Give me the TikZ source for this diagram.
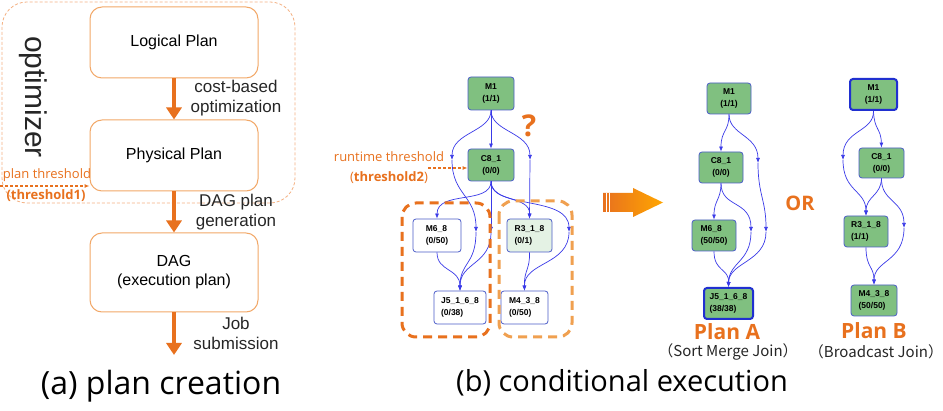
\documentclass[tikz,border=0pt]{standalone}
\usepackage{fontspec}
\setmainfont{Liberation Sans}
\newfontfamily\nsf{Open Sans}
\newfontfamily\cjk{Noto Sans CJK SC}
\usetikzlibrary{arrows.meta}
\definecolor{orA}{HTML}{E8711E}
\definecolor{orL}{HTML}{F2A868}
\definecolor{orD}{HTML}{F4B183}
\definecolor{orR}{HTML}{F0A050}
\definecolor{gfill}{HTML}{80C080}
\definecolor{lgfill}{HTML}{E4F2E4}
\definecolor{nborder}{HTML}{4C5DC9}
\definecolor{edgec}{HTML}{3A3AE8}
\definecolor{thickb}{HTML}{2030D0}
\tikzset{
  sz/.style 2 args={minimum width=#1pt, minimum height=#2pt},
  planbox/.style={draw=orL, line width=1pt, rounded corners=12pt, inner sep=0pt, font=\fontsize{16}{19}\selectfont, align=center},
  bigarrow/.style={draw=orA, line width=3.5pt, -{Triangle[length=12pt,width=15pt]}},
  steplabel/.style={font=\fontsize{17}{20}\selectfont, align=center, text=black!85},
  dnode/.style={draw=nborder, line width=0.8pt, rounded corners=3pt, inner sep=0pt, align=left, font=\bfseries\fontsize{8.5}{12}\selectfont},
  gnode/.style={dnode, fill=gfill},
  wnode/.style={dnode, fill=white},
  lgnode/.style={dnode, fill=lgfill},
  thicknode/.style={draw=thickb, line width=2pt},
  edge/.style={draw=edgec, line width=0.7pt, -{Latex[length=5pt,width=4pt]}},
  ortext/.style={text=orA, font=\nsf\fontsize{13}{16}\selectfont},
  orarrow/.style={draw=orA, line width=1.2pt, dash pattern=on 3pt off 2pt, -{Latex[length=5pt,width=4pt]}},
  groupbox/.style={line width=3pt, dash pattern=on 9pt off 6pt, rounded corners=14pt},
  planlabel/.style={text=orA, inner sep=0pt, font=\nsf\bfseries\fontsize{21}{23}\selectfont},
  subl/.style={inner sep=0pt, font=\cjk\fontsize{15}{17}\selectfont, text=black!85},
  caption/.style={font=\nsf\fontsize{29}{32}\selectfont}
}
\begin{document}
\begin{tikzpicture}[x=1pt,y=1pt]
\useasboundingbox (0,0) rectangle (943,-411);
\fill[white] (0,0) rectangle (943,-411);

% ---------- (a) plan creation ----------
\draw[draw=orD, line width=0.8pt, dash pattern=on 3pt off 2pt, rounded corners=25pt] (2,-2) rectangle (295,-203);
\node[rotate=-90, font=\fontsize{30}{32}\selectfont, text=black!85] (opt) at (33,-97) {optimizer};

\node[planbox, sz={168}{71}] (logical) at (174,-42.5) {Logical Plan};
\node[planbox, sz={168}{71}] (physical) at (174,-155.5) {Physical Plan};
\node[planbox, sz={168}{79}] (dag) at (174,-272.5) {DAG\\(execution plan)};
\coordinate (jobend) at (174,-355);

\draw[bigarrow] (logical.south) -- (physical.north);
\draw[bigarrow] (physical.south) -- (dag.north);
\draw[bigarrow] (dag.south) -- (jobend);

\node[steplabel] (l1) at (236,-98) {cost-based\\optimization};
\node[steplabel] (l2) at (236,-212) {DAG plan\\generation};
\node[steplabel] (l3) at (236,-333) {Job\\submission};

\node[ortext] (pt) at (47,-175) {plan threshold};
\node[ortext] (pt1) at (46,-196) {\bfseries(threshold1)};
\coordinate (ptstart) at (0,-186);
\draw[orarrow] (ptstart) -- (physical.west |- ptstart);

\node[caption, font=\nsf\fontsize{32}{34}\selectfont] (capa) at (161,-386) {(a) plan creation};

% ---------- (b) middle DAG ----------
\node[gnode, sz={46}{33}, align=center] (m1) at (491,-93.5) {M1\\(1/1)};
\node[gnode, sz={46}{32}, align=center] (c8) at (491,-165) {C8\_1\\(0/0)};
\node[wnode, sz={48}{33}] (m6) at (437,-235.5) {M6\_8\\(0/50)};
\node[wnode, sz={52}{33}] (j5) at (460,-307.5) {J5\_1\_6\_8\\(0/38)};
\node[lgnode, sz={45}{33}] (r3) at (529.5,-235.5) {R3\_1\_8\\(0/1)};
\node[wnode, sz={47}{33}] (m4) at (524.5,-307.5) {M4\_3\_8\\(0/50)};

\coordinate (a1) at (452,-160);
\coordinate (a2) at (530,-160);
\coordinate (b1) at (476,-232);
\coordinate (b2) at (491,-232);
\coordinate (b3) at (569,-232);

\draw[edge] (m1.south) -- (c8.north);
\draw[edge] (m1.south) .. controls (491,-132) and (452,-132) .. (a1);
\draw[edge] (m1.south) .. controls (491,-132) and (530,-132) .. (a2);
\draw[edge] (a1) .. controls (452,-195) and (476,-195) .. (b1);
\draw[edge] (c8.south) .. controls (491,-205) and (437,-190) .. (m6.north);
\draw[edge] (c8.south) -- (b2);
\draw[edge] (c8.south) .. controls (491,-203) and (530,-195) .. (r3.north);
\draw[edge] (c8.south) .. controls (491,-210) and (569,-195) .. (b3);
\draw[edge] (a2) -- (r3.north);
\draw[edge] (b1) .. controls (476,-265) and (460,-262) .. (j5.north);
\draw[edge] (b2) .. controls (491,-265) and (460,-262) .. (j5.north);
\draw[edge] (m6.south) .. controls (437,-272) and (460,-268) .. (j5.north);
\draw[edge] (r3.south) .. controls (530,-270) and (524,-270) .. (m4.north);
\draw[edge] (b3) .. controls (569,-265) and (524,-262) .. (m4.north);

\draw[orA, groupbox] (402,-203) rectangle (490,-337);
\draw[orR, groupbox] (499,-201) rectangle (572,-337);

\node[text=orA, font=\nsf\bfseries\fontsize{30}{32}\selectfont] (q) at (529,-126) {?};
\node[ortext] (rt) at (389,-157) {runtime threshold};
\node[ortext] (rt2) at (389,-178) {({\bfseries threshold2})};
\coordinate (rtstart) at (428,-168);
\draw[orarrow] (rtstart) -- (c8.west |- rtstart);

% big orange arrow
\shade[left color=orA, right color=orange!70!yellow] (603,-193) -- (633,-193) -- (633,-188) -- (663,-202.5) -- (633,-217) -- (633,-212) -- (603,-212) -- cycle;
\draw[white, line width=0.8pt] (606,-193) -- (606,-212);
\draw[white, line width=0.8pt] (609.5,-193) -- (609.5,-212);

% ---------- Plan A ----------
\node[gnode, sz={44}{31}, align=center] (m1a) at (729,-98.5) {M1\\(1/1)};
\node[gnode, sz={44}{31}, align=center] (c8a) at (721,-167.5) {C8\_1\\(0/0)};
\node[gnode, sz={44}{31}] (m6a) at (714,-235.5) {M6\_8\\(50/50)};
\node[gnode, thicknode, sz={49}{31}] (j5a) at (728.5,-303.5) {J5\_1\_6\_8\\(38/38)};
\coordinate (pa1) at (758,-163);
\coordinate (pa2) at (766,-232);
\coordinate (pa3) at (751,-232);

\draw[edge] (m1a.south) .. controls (729,-132) and (721,-130) .. (c8a.north);
\draw[edge] (m1a.south) .. controls (729,-135) and (758,-135) .. (pa1);
\draw[edge] (pa1) .. controls (758,-195) and (766,-200) .. (pa2);
\draw[edge] (c8a.south) .. controls (721,-200) and (714,-200) .. (m6a.north);
\draw[edge] (c8a.south) .. controls (721,-208) and (751,-200) .. (pa3);
\draw[edge] (pa3) .. controls (751,-262) and (729,-262) .. (j5a.north);
\draw[edge] (pa2) .. controls (766,-262) and (729,-262) .. (j5a.north);
\draw[edge] (m6a.south) .. controls (714,-272) and (729,-268) .. (j5a.north);

\node[planlabel] (pla) at (727,-332) {Plan A};
\node[subl] (sla) at (728,-352) {（Sort Merge Join）};

\node[text=orA, font=\nsf\bfseries\fontsize{20}{22}\selectfont] (or) at (800,-203) {OR};

% ---------- Plan B ----------
\node[gnode, thicknode, sz={47}{31}, align=center] (m1b) at (873.5,-94.5) {M1\\(1/1)};
\node[gnode, sz={45}{30}, align=center] (c8b) at (881.5,-163) {C8\_1\\(0/0)};
\node[gnode, sz={44}{31}] (r3b) at (866,-231.5) {R3\_1\_8\\(1/1)};
\node[gnode, sz={46}{31}] (m4b) at (874,-300.5) {M4\_3\_8\\(50/50)};
\coordinate (pb1) at (843,-160);
\coordinate (pb2) at (904,-228);

\draw[edge] (m1b.south) .. controls (874,-130) and (881,-128) .. (c8b.north);
\draw[edge] (m1b.south) .. controls (874,-132) and (843,-130) .. (pb1);
\draw[edge] (pb1) .. controls (843,-192) and (866,-190) .. (r3b.north);
\draw[edge] (c8b.south) .. controls (881,-196) and (866,-196) .. (r3b.north);
\draw[edge] (c8b.south) .. controls (881,-202) and (904,-200) .. (pb2);
\draw[edge] (r3b.south) .. controls (866,-268) and (874,-266) .. (m4b.north);
\draw[edge] (pb2) .. controls (904,-262) and (874,-260) .. (m4b.north);

\node[planlabel] (plb) at (874,-331) {Plan B};
\node[subl] (slb) at (876,-352) {（Broadcast Join）};

\node[caption] (capb) at (622,-383) {(b) conditional execution};
\end{tikzpicture}
\end{document}
